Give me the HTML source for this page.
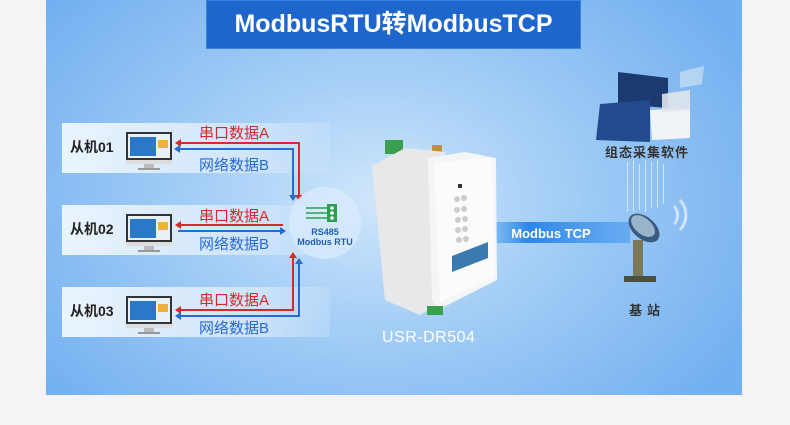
<!DOCTYPE html>
<html><head><meta charset="utf-8"><style>
*{margin:0;padding:0;box-sizing:border-box}
body{width:790px;height:425px;background:#f4f4f4;position:relative;overflow:hidden;font-family:"Liberation Sans","Noto Sans CJK SC",sans-serif}
#panel{position:absolute;left:46px;top:0;width:696px;height:395px;background:radial-gradient(ellipse 420px 300px at 330px 200px,#cfe6fb 0%,#a2cdf6 45%,#74b0f0 100%)}
.abs{position:absolute}
#title{left:206px;top:0;width:375px;height:49px;background:#1f66cc;border:1px solid #3b82e0;color:#fff;font-size:25px;font-weight:bold;text-align:center;line-height:47px}
.row{position:absolute;left:62px;width:268px;height:50px;background:linear-gradient(90deg,#eaf4fd,#cfe4fa 70%,rgba(200,225,250,0.4))}
.row span{position:absolute;left:8px;top:14px;font-size:14px;color:#222;font-weight:bold}
.lbl{position:absolute;font-size:15px}
.r{color:#d42a2a}.b{color:#2a6ad4}
</style></head><body>
<div id="panel"></div>
<div class="abs" id="title">ModbusRTU转ModbusTCP</div>

<div class="row" style="top:123px"><span>从机01</span></div>
<div class="row" style="top:205px"><span>从机02</span></div>
<div class="row" style="top:287px"><span>从机03</span></div>

<svg class="abs" style="left:0;top:0" width="790" height="425">
<defs>
<g id="mon"><rect x="0" y="0" width="46" height="28" fill="#333"/><rect x="2" y="2" width="42" height="24" fill="#e8f0f8"/><rect x="4" y="5" width="26" height="19" fill="#2a78c8"/><rect x="32" y="8" width="10" height="8" fill="#f0b040"/><rect x="0" y="28" width="46" height="4" fill="#ddd"/><rect x="18" y="32" width="10" height="4" fill="#bbb"/><rect x="12" y="36" width="22" height="2" fill="#999"/></g>
<linearGradient id="tg"><stop offset="0" stop-color="#5aa8f0" stop-opacity="0.4"/><stop offset="0.3" stop-color="#2a86e8"/><stop offset="1" stop-color="#3a92ec" stop-opacity="0.5"/></linearGradient>
</defs>
<use href="#mon" x="126" y="132"/>
<use href="#mon" x="126" y="214"/>
<use href="#mon" x="126" y="296"/>
<g fill="none" stroke-width="2">
<path d="M299 197 V143 H180" stroke="#d42a2a"/>
<path d="M293 197 V149 H178" stroke="#2a6ad4"/>
<path d="M283 225 H178" stroke="#d42a2a"/>
<path d="M178 231 H281" stroke="#2a6ad4"/>
<path d="M293 256 V310 H178" stroke="#d42a2a"/>
<path d="M299 262 V316 H180" stroke="#2a6ad4"/>
</g>
<g>
<path d="M175 143 l6 -4 v8z" fill="#d42a2a"/>
<path d="M174 149 l6 -4 v8z" fill="#2a6ad4"/>
<path d="M299 201 l-4 -6 h8z" fill="#d42a2a"/>
<path d="M293 201 l-4 -6 h8z" fill="#2a6ad4"/>
<path d="M175 225 l6 -4 v8z" fill="#d42a2a"/>
<path d="M286 231 l-6 -4 v8z" fill="#2a6ad4"/>
<path d="M293 252 l-4 6 h8z" fill="#d42a2a"/>
<path d="M299 258 l-4 6 h8z" fill="#2a6ad4"/>
<path d="M175 310 l6 -4 v8z" fill="#d42a2a"/>
<path d="M175 316 l6 -4 v8z" fill="#2a6ad4"/>
</g>
<circle cx="325" cy="223" r="36" fill="#d7eafb" opacity="0.85"/>
<g stroke="#2aa050" stroke-width="1.5"><line x1="306" y1="208" x2="328" y2="208"/><line x1="306" y1="213" x2="328" y2="213"/><line x1="306" y1="218" x2="328" y2="218"/></g>
<rect x="327" y="204" width="10" height="18" fill="#2aa050"/>
<g fill="#fff"><circle cx="332" cy="208" r="1.8"/><circle cx="332" cy="213" r="1.8"/><circle cx="332" cy="218" r="1.8"/></g>
<text x="325" y="235" font-size="9" font-weight="bold" fill="#1e5eb8" text-anchor="middle" font-family="Liberation Sans">RS485</text>
<text x="325" y="245" font-size="9" font-weight="bold" fill="#1e5eb8" text-anchor="middle" font-family="Liberation Sans">Modbus RTU</text>
<rect x="485" y="222" width="145" height="21" fill="url(#tg)"/>
<text x="551" y="238" font-size="13" font-weight="bold" fill="#fff" text-anchor="middle" font-family="Liberation Sans">Modbus TCP</text>
<!-- device -->
<rect x="385" y="140" width="18" height="14" fill="#3aa050"/>
<rect x="432" y="145" width="10" height="14" fill="#c09040"/>
<polygon points="372,166 405,148 445,152 445,300 420,315 385,300" fill="#e6e8ea"/>
<polygon points="428,158 465,152 496,158 497,280 438,310 432,300" fill="#f4f5f6"/>
<polygon points="434,163 492,157 495,277 440,302" fill="#fbfbfb"/>
<rect x="458" y="184" width="4" height="4" fill="#333"/>
<g fill="#ccc"><circle cx="457" cy="199" r="3"/><circle cx="464" cy="198" r="3"/><circle cx="457" cy="210" r="3"/><circle cx="464" cy="209" r="3"/><circle cx="458" cy="220" r="3"/><circle cx="465" cy="219" r="3"/><circle cx="458" cy="230" r="3"/><circle cx="465" cy="229" r="3"/><circle cx="459" cy="240" r="3"/><circle cx="466" cy="239" r="3"/></g>
<polygon points="452,256 488,242 488,258 452,272" fill="#3a7ab0"/>
<rect x="427" y="306" width="16" height="9" fill="#3aa050"/>
<!-- software -->
<polygon points="618,72 668,78 668,108 618,104" fill="#1a3a70"/>
<polygon points="600,104 650,100 650,142 596,140" fill="#234a8c"/>
<polygon points="650,110 690,108 690,138 652,140" fill="#f0f4f8"/>
<polygon points="662,94 690,90 690,110 662,112" fill="#e0e6ec" opacity="0.9"/>
<polygon points="680,72 704,66 702,84 680,88" fill="#d8e6f4" opacity="0.6"/>
<g fill="#fff" opacity="0.6">
<rect x="627" y="162" width="1" height="50"/><rect x="633" y="160" width="1" height="52"/><rect x="639" y="164" width="1" height="46"/><rect x="645" y="160" width="1" height="52"/><rect x="651" y="162" width="1" height="46"/><rect x="657" y="160" width="1" height="48"/><rect x="663" y="164" width="1" height="40"/></g>
<!-- dish -->
<path d="M680 200 a22 22 0 0 1 0 30" stroke="#cfe4f8" stroke-width="3" fill="none"/>
<path d="M674 206 a13 13 0 0 1 0 18" stroke="#cfe4f8" stroke-width="3" fill="none"/>
<ellipse cx="644" cy="228" rx="18" ry="11" transform="rotate(40 644 228)" fill="#3a5a80"/>
<ellipse cx="643" cy="226" rx="14" ry="8" transform="rotate(40 643 226)" fill="#9ab4cc"/>
<rect x="633" y="240" width="10" height="36" fill="#7a7a5a"/>
<rect x="624" y="276" width="32" height="6" fill="#4a5040"/>
</svg>

<div class="lbl r" style="left:199px;top:122px">串口数据A</div>
<div class="lbl b" style="left:199px;top:154px">网络数据B</div>
<div class="lbl r" style="left:199px;top:205px">串口数据A</div>
<div class="lbl b" style="left:199px;top:233px">网络数据B</div>
<div class="lbl r" style="left:199px;top:289px">串口数据A</div>
<div class="lbl b" style="left:199px;top:317px">网络数据B</div>

<div class="abs" style="left:605px;top:142px;font-size:13px;font-weight:bold;color:#333;letter-spacing:1px">组态采集软件</div>
<div class="abs" style="left:629px;top:300px;font-size:13px;font-weight:bold;color:#333;letter-spacing:5px">基站</div>
<div class="abs" style="left:382px;top:329px;font-size:16px;color:#fff;letter-spacing:0.5px">USR-DR504</div>
</body></html>
